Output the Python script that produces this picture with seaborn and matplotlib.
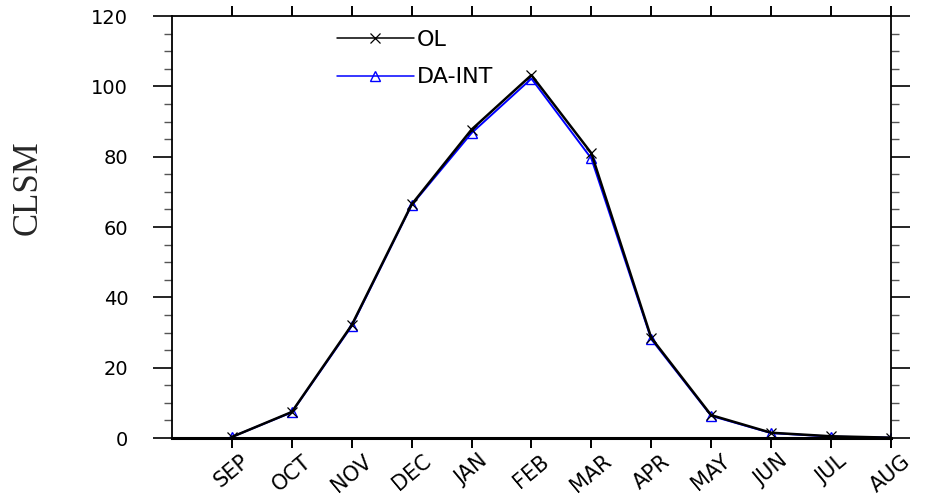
import matplotlib.pyplot as plt
import matplotlib.transforms as mtransforms
import seaborn as sns
import pandas as pd
from matplotlib.ticker import MultipleLocator

months = ['SEP', 'OCT', 'NOV', 'DEC', 'JAN', 'FEB', 'MAR', 'APR', 'MAY', 'JUN', 'JUL', 'AUG']
ol = [0.3, 7.4, 32.1, 66.4, 87.7, 103.2, 81.0, 28.5, 6.5, 1.5, 0.5, 0.1]
da_int = [0.3, 7.3, 31.8, 66.2, 86.7, 102.2, 79.5, 28.1, 6.3, 1.4, 0.4, 0.1]

sns.set_style('ticks')
plt.rcParams['font.family'] = ['DejaVu Sans']
plt.rcParams['text.color'] = 'black'
plt.rcParams['xtick.color'] = 'black'
plt.rcParams['ytick.color'] = 'black'

df = pd.DataFrame({'month': range(len(months)), 'OL': ol, 'DA-INT': da_int})

fig = plt.figure(figsize=(9.28, 4.97), dpi=100)
ax = fig.add_axes([0.1853, 0.1187, 0.7747, 0.8491])

# blue first so the black OL line sits on top, as in the original
sns.lineplot(data=df, x='month', y='DA-INT', ax=ax, color='blue', lw=1.4,
             marker='^', markersize=7, markerfacecolor='none',
             markeredgecolor='blue', markeredgewidth=1.0, label='DA-INT')
sns.lineplot(data=df, x='month', y='OL', ax=ax, color='black', lw=1.8,
             marker='x', markersize=7, markeredgecolor='black',
             markeredgewidth=0.9, label='OL')

ax.set_xlim(-1, 11)
ax.set_ylim(0, 120)
ax.set_xticks(range(len(months)))
ax.set_xticklabels(months, rotation=40, ha='center', va='top', fontsize=15)
offset = mtransforms.ScaledTranslation(8 / 100, 0, fig.dpi_scale_trans)
for lab in ax.get_xticklabels():
    lab.set_transform(lab.get_transform() + offset)

ax.yaxis.set_major_locator(MultipleLocator(20))
ax.yaxis.set_minor_locator(MultipleLocator(5))
ax.tick_params(which='major', direction='out', top=True, right=True)
ax.tick_params(axis='y', which='major', length=13.5, width=1.2, labelsize=14, pad=18)
ax.tick_params(axis='y', which='minor', direction='out', length=5.5, width=1.0,
               left=True, right=True, color='#555555')
ax.tick_params(axis='x', which='major', length=7.5, width=1.4, pad=2)
for s in ax.spines.values():
    s.set_visible(True)
    s.set_linewidth(1.3)
    s.set_color('black')
ax.spines['bottom'].set_linewidth(2.2)

ax.set_xlabel('')
ax.set_ylabel('CLSM', fontsize=25, family='Liberation Serif')
ax.yaxis.set_label_coords(-0.1766, 0.592)

handles, labels = ax.get_legend_handles_labels()
leg = ax.legend(handles[::-1], labels[::-1], loc='upper left',
                bbox_to_anchor=(0.229, 0.968), frameon=False,
                fontsize=16, handlelength=3.5, handletextpad=0.1,
                labelspacing=0.8, borderaxespad=0, borderpad=0)
for h in leg.get_lines():
    h.set_linewidth(1.1)

fig.savefig('out.png', dpi=100)
